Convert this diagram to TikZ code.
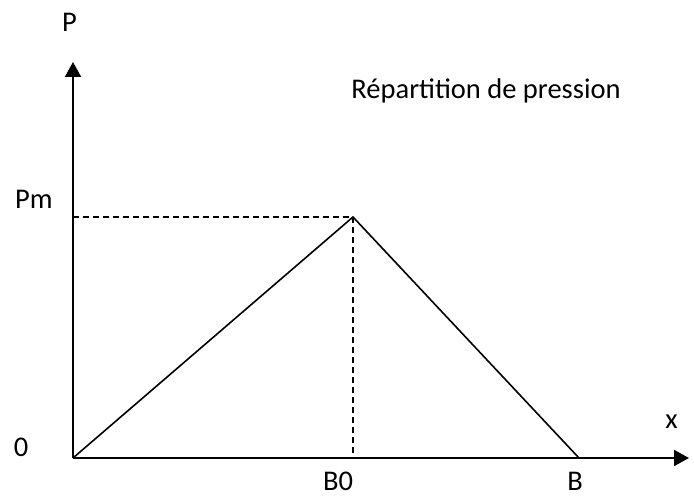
\documentclass[tikz,border=0pt]{standalone}
\usepackage{fontspec}
\setmainfont{Carlito}
\usetikzlibrary{arrows.meta}
\begin{document}
\begin{tikzpicture}[x=1pt,y=-1pt,
  axis/.style={line width=2pt,-{Triangle[length=15pt,width=16pt]}},
  curve/.style={line width=1.6pt},
  guide/.style={line width=1.6pt,dash pattern=on 6pt off 4pt},
  lbl/.style={font=\fontsize{28.5}{33}\selectfont,inner sep=0pt,anchor=base}]
\useasboundingbox (0,0) rectangle (694,497);
\coordinate (O) at (73,458);
\coordinate (Ytip) at (73,62);
\coordinate (Xtip) at (689,458);
\coordinate (M) at (353,217);
\coordinate (Bp) at (579,458);
\coordinate (Ym) at (73,217);
\coordinate (Xm) at (353,458);
\draw[axis] (O) -- (Ytip);
\draw[axis] (O) -- (Xtip);
\draw[curve] (O) -- (M) -- (Bp);
\draw[guide] (Ym) -- (M);
\draw[guide] (M) -- (Xm);
\node[lbl] (lP) at (69.5,32) {P};
\node[lbl,anchor=base west] (lPm) at (15,209) {Pm};
\node[lbl] (l0) at (21,456) {0};
\node[lbl] (lx) at (671.5,428) {x};
\node[lbl] (lB0) at (338,490) {B0};
\node[lbl] (lB) at (575,490) {B};
\node[lbl] (title) at (486,99) {Répartition de pression};
\end{tikzpicture}
\end{document}
